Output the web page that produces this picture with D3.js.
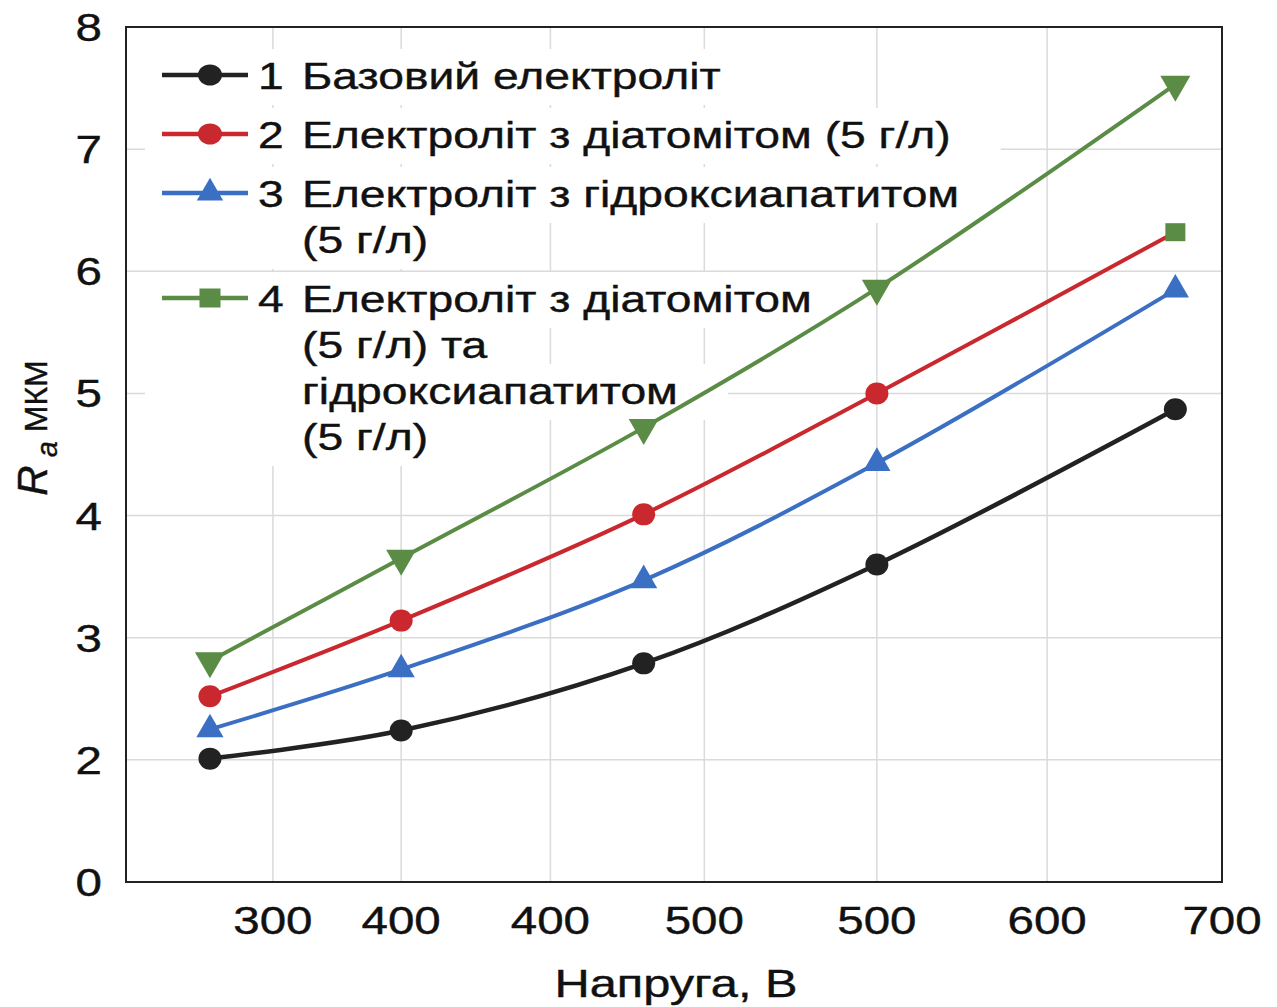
<!DOCTYPE html>
<meta charset="utf-8">
<style>
  body { margin: 0; background: #fff; }
  svg text { font-family: "Liberation Sans", Arial, sans-serif; fill: #111; stroke: #111; stroke-width: 0.4px; }
  .grid line { stroke: #dadada; stroke-width: 1.5px; }
  .frame { fill: none; stroke: #222; stroke-width: 2px; }
  .series path.line { fill: none; stroke-linejoin: round; stroke-linecap: round; }
</style>
<body>
<script src="https://d3js.org/d3.v7.min.js"></script>
<script>
// values (the tick labels are as printed on the original)
var voltages = [266, 348, 452, 552, 680];
var xTickValues = [293, 348, 412, 478, 552, 625, 700];
var xTickLabels = ["300", "400", "400", "500", "500", "600", "700"];
var yTickValues = [1, 2, 3, 4, 5, 6, 7, 8];
var yTickLabels = ["0", "2", "3", "4", "5", "6", "7", "8"];

var ra1 = [2.01, 2.24, 2.79, 3.60, 4.87];
var ra2 = [2.52, 3.14, 4.01, 5.00, 6.32];
var ra3 = [2.25, 2.74, 3.47, 4.43, 5.85];
var ra4 = [2.81, 3.65, 4.72, 5.86, 7.53];

// marker drawn at each point (the last red point carries a green square in the original)
var markers1 = ["circle", "circle", "circle", "circle", "circle"];
var markers2 = ["circle", "circle", "circle", "circle", "square"];
var markers3 = ["tri-up", "tri-up", "tri-up", "tri-up", "tri-up"];
var markers4 = ["tri-down", "tri-down", "tri-down", "tri-down", "tri-down"];

var colors = ["#222222", "#c9282e", "#3b6fc3", "#5a8c45"];

var legendNumbers = ["1", "2", "3", "4"];
var legendLines = [
  ["Базовий електроліт"],
  ["Електроліт з діатомітом (5 г/л)"],
  ["Електроліт з гідроксиапатитом", "(5 г/л)"],
  ["Електроліт з діатомітом", "(5 г/л) та", "гідроксиапатитом", "(5 г/л)"]
];
var legendShapes = ["circle", "circle", "tri-up", "square"];

var W = 1277, H = 1007;
var STRETCH = 1.25; // the original text is drawn wide

var svg = d3.select("body").append("svg")
    .attr("width", W)
    .attr("height", H);

var x = d3.scaleLinear().domain([230, 700]).range([126, 1222]);
var y = d3.scaleLinear().domain([1, 8]).range([882, 27]);

function wideText(sel, px, py, txt, size, anchor) {
  return sel.append("text")
      .attr("transform", "translate(" + px + "," + py + ") scale(" + STRETCH + ",1)")
      .attr("text-anchor", anchor || "start")
      .style("font-size", size + "px")
      .text(txt);
}

// grid
var grid = svg.append("g").attr("class", "grid");
grid.selectAll(".gx").data(xTickValues.slice(0, -1)).enter().append("line")
    .attr("x1", function(d) { return x(d); }).attr("x2", function(d) { return x(d); })
    .attr("y1", y(8)).attr("y2", y(1));
grid.selectAll(".gy").data(yTickValues.slice(1, -1)).enter().append("line")
    .attr("x1", x(230)).attr("x2", x(700))
    .attr("y1", function(d) { return y(d); }).attr("y2", function(d) { return y(d); });

function drawMarker(g, shape, cx, cy, col, inLegend) {
  if (shape === "circle") {
    g.append("ellipse").attr("cx", cx).attr("cy", cy)
        .attr("rx", inLegend ? 12 : 11.5).attr("ry", inLegend ? 10.5 : 11)
        .attr("fill", col);
  } else if (shape === "square") {
    var s = inLegend ? 21 : 20;
    g.append("rect").attr("x", cx - s / 2).attr("y", cy - s / 2 + 1)
        .attr("width", s).attr("height", s - 2).attr("fill", colors[3]);
  } else {
    var size = shape === "tri-down" ? 390 : (inLegend ? 300 : 320);
    g.append("path")
        .attr("d", d3.symbol().type(d3.symbolTriangle).size(size)())
        .attr("transform", "translate(" + cx + "," + cy + ")" + (shape === "tri-down" ? " rotate(180)" : ""))
        .attr("fill", col);
  }
}

// legend (white boxes behind each text line hide the grid)
var legend = svg.append("g");
var lineStep = 46, entryGap = 13;
var baseY = 89;
legendLines.forEach(function(lines, i) {
  var g = legend.append("g");
  var boxes = g.append("g");
  wideText(g, 258, baseY, legendNumbers[i], 37);
  lines.forEach(function(t, j) {
    var ty = baseY + j * lineStep;
    var el = wideText(g, 302, ty, t, 37);
    var w = el.node().getComputedTextLength() * STRETCH;
    boxes.append("rect")
        .attr("x", 145).attr("y", ty - 40)
        .attr("width", 302 + w + 50 - 145).attr("height", 56)
        .attr("fill", "#fff");
  });
  var cy = baseY - 14;
  g.append("line")
      .attr("x1", 162).attr("x2", 248).attr("y1", cy).attr("y2", cy)
      .attr("stroke", colors[i]).attr("stroke-width", 4.5);
  drawMarker(g, legendShapes[i], 210, cy, colors[i], true);
  baseY += lines.length * lineStep + entryGap;
});

// series
var series = [
  { vals: ra1, marks: markers1 },
  { vals: ra2, marks: markers2 },
  { vals: ra3, marks: markers3 },
  { vals: ra4, marks: markers4 }
];
var line = d3.line()
    .x(function(d, i) { return x(voltages[i]); })
    .y(function(d) { return y(d); })
    .curve(d3.curveCatmullRom.alpha(0.5));

series.forEach(function(s, k) {
  var g = svg.append("g").attr("class", "series");
  g.append("path").attr("class", "line")
      .attr("d", line(s.vals))
      .attr("stroke", colors[k])
      .attr("stroke-width", k === 0 ? 4.5 : 4);
  s.vals.forEach(function(v, i) {
    drawMarker(g, s.marks[i], x(voltages[i]), y(v), colors[k], false);
  });
});

// frame
svg.append("rect").attr("class", "frame")
    .attr("x", x(230)).attr("y", y(8))
    .attr("width", x(700) - x(230)).attr("height", y(1) - y(8));

// tick labels
yTickValues.forEach(function(v, i) {
  wideText(svg, 102, y(v) + 14, yTickLabels[i], 38, "end");
});
xTickValues.forEach(function(v, i) {
  wideText(svg, x(v), 934, xTickLabels[i], 38, "middle");
});

// axis titles
wideText(svg, 676, 997, "Напруга, В", 39, "middle");

var yl = svg.append("text")
    .attr("transform", "translate(47,428) rotate(-90)")
    .attr("text-anchor", "middle");
yl.append("tspan").style("font-size", "42px").style("font-style", "italic").text("R");
yl.append("tspan").attr("dy", 10).style("font-size", "29px").style("font-style", "italic").text(" a");
yl.append("tspan").attr("dy", -10).style("font-size", "32px").text(" МКМ");
</script>
</body>
